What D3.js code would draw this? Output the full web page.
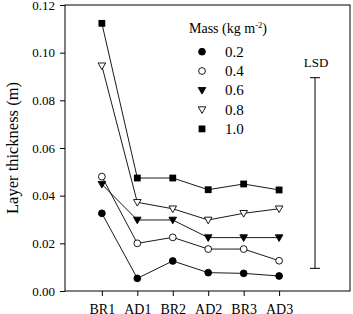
<!DOCTYPE html>
<html>
<head>
<meta charset="utf-8">
<script src="https://cdn.jsdelivr.net/npm/d3@7"></script>
<style>
  body { margin: 0; background: #fff; }
  .axis path, .axis line { stroke: #000; stroke-width: 1; }
</style>
</head>
<body>
<svg id="chart" width="353" height="314"></svg>
<script>
// categories and series
const categories = ["BR1", "AD1", "BR2", "AD2", "BR3", "AD3"];
const massLabels = ["0.2", "0.4", "0.6", "0.8", "1.0"];
const mass02 = [0.0326, 0.0053, 0.0126, 0.0077, 0.0074, 0.0063];
const mass04 = [0.0480, 0.0200, 0.0225, 0.0176, 0.0176, 0.0127];
const mass06 = [0.0448, 0.0298, 0.0298, 0.0224, 0.0224, 0.0224];
const mass08 = [0.0945, 0.0372, 0.0345, 0.0298, 0.0326, 0.0345];
const mass10 = [0.1123, 0.0474, 0.0474, 0.0425, 0.0449, 0.0424];
const yTicks = [0, 0.02, 0.04, 0.06, 0.08, 0.10, 0.12];
const lsd = [0.0095, 0.0895];

const series = [
  { label: massLabels[0], values: mass02, shape: "circle", fill: "#000" },
  { label: massLabels[1], values: mass04, shape: "circle", fill: "#fff" },
  { label: massLabels[2], values: mass06, shape: "tri", fill: "#000" },
  { label: massLabels[3], values: mass08, shape: "tri", fill: "#fff" },
  { label: massLabels[4], values: mass10, shape: "square", fill: "#000" }
];

const serif = "Liberation Serif";
const margin = { left: 65, top: 5, right: 3, bottom: 23 };
const W = 353, H = 314;
const svg = d3.select("#chart");

const x = d3.scaleLinear().domain([-1.04, 7]).range([margin.left, W - margin.right]);
const y = d3.scaleLinear().domain([0, 0.12]).range([H - margin.bottom, margin.top]);

// frame
svg.append("rect")
  .attr("x", margin.left).attr("y", margin.top)
  .attr("width", W - margin.right - margin.left)
  .attr("height", H - margin.bottom - margin.top)
  .attr("fill", "none").attr("stroke", "#000");

// y axis
const yAxis = svg.append("g").attr("class", "axis")
  .attr("transform", `translate(${margin.left},0)`)
  .call(d3.axisLeft(y).tickValues(yTicks).tickFormat(d3.format(".2f")).tickSize(5).tickPadding(5));
yAxis.select(".domain").remove();
yAxis.selectAll("text").style("font-family", serif).style("font-size", "13px");

// x axis
const xAxis = svg.append("g").attr("class", "axis")
  .attr("transform", `translate(0,${H - margin.bottom})`)
  .call(d3.axisBottom(x).tickValues(d3.range(categories.length))
    .tickFormat(i => categories[i]).tickSize(5).tickPadding(8));
xAxis.select(".domain").remove();
xAxis.selectAll("text").style("font-family", serif).style("font-size", "14px");

// y label
svg.append("text")
  .attr("transform", `translate(18,${(margin.top + H - margin.bottom) / 2}) rotate(-90)`)
  .attr("text-anchor", "middle")
  .style("font-family", serif).style("font-size", "16.5px")
  .text("Layer thickness (m)");

// markers
const drawMarker = (g, s, cx, cy) => {
  if (s.shape === "circle") {
    g.append("circle").attr("cx", cx).attr("cy", cy).attr("r", 3.4)
      .attr("fill", s.fill).attr("stroke", "#000").attr("stroke-width", 0.9);
  } else if (s.shape === "square") {
    g.append("rect").attr("x", cx - 3.4).attr("y", cy - 3.4)
      .attr("width", 6.8).attr("height", 6.8).attr("fill", s.fill);
  } else {
    g.append("path")
      .attr("d", `M${cx - 3.8},${cy - 2.8}L${cx + 3.8},${cy - 2.8}L${cx},${cy + 3.8}Z`)
      .attr("fill", s.fill).attr("stroke", "#000").attr("stroke-width", 0.9);
  }
};

const line = d3.line().x((d, i) => x(i)).y(d => y(d));

series.forEach(s => {
  svg.append("path")
    .attr("d", line(s.values))
    .attr("fill", "none").attr("stroke", "#000").attr("stroke-width", 0.9);
});
series.forEach(s => {
  const g = svg.append("g");
  s.values.forEach((v, i) => drawMarker(g, s, x(i), y(v)));
});

// legend
const legend = svg.append("g");
const title = legend.append("text").attr("x", 189).attr("y", 33)
  .style("font-family", serif).style("font-size", "14px");
title.append("tspan").text("Mass (kg m");
title.append("tspan").style("font-size", "8.5px").attr("dy", -5).text("-2");
title.append("tspan").attr("dy", 5).text(")");
series.forEach((s, i) => {
  const cy = 51.7 + i * 19.3;
  drawMarker(legend, s, 202, cy);
  legend.append("text").attr("x", 225).attr("y", cy + 5)
    .style("font-family", serif).style("font-size", "15px").text(s.label);
});

// LSD bar
const lx = 315;
svg.append("line").attr("x1", lx).attr("x2", lx)
  .attr("y1", y(lsd[1])).attr("y2", y(lsd[0])).attr("stroke", "#000");
lsd.forEach(v => {
  svg.append("line").attr("x1", lx - 5).attr("x2", lx + 5)
    .attr("y1", y(v)).attr("y2", y(v)).attr("stroke", "#000");
});
svg.append("text").attr("x", lx + 1).attr("y", 67).attr("text-anchor", "middle")
  .style("font-family", serif).style("font-size", "13px").text("LSD");
</script>
</body>
</html>
